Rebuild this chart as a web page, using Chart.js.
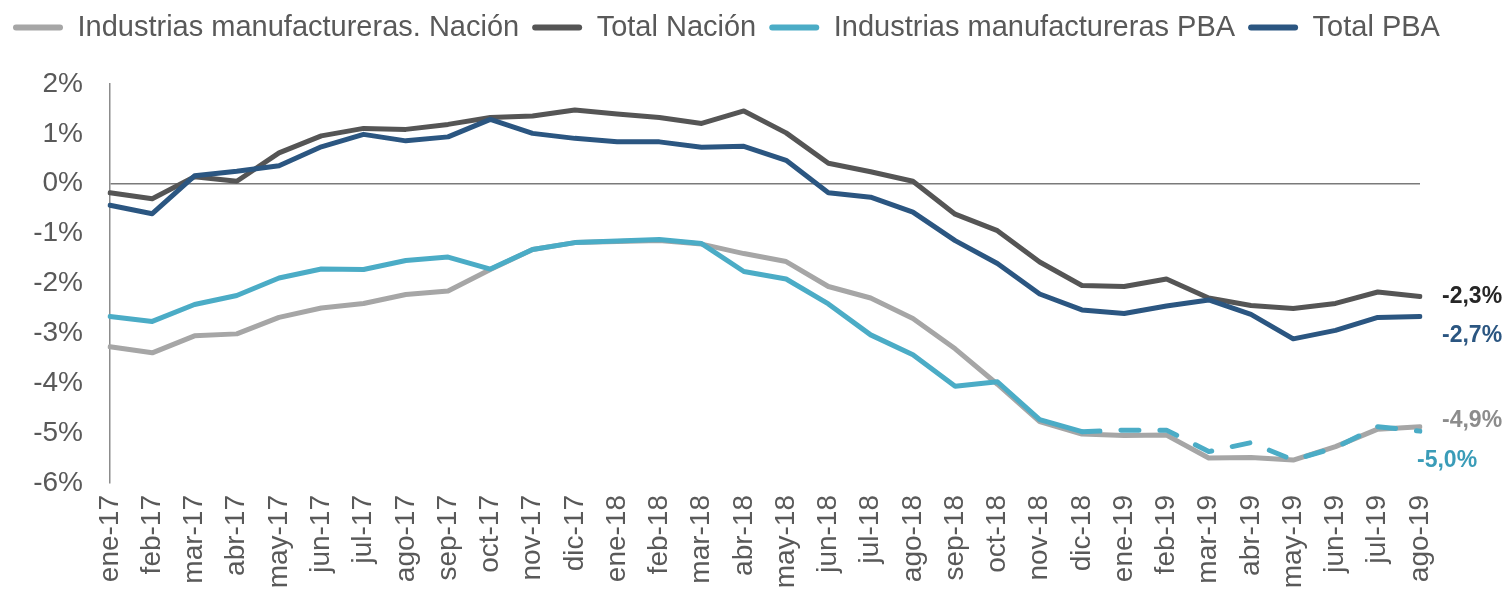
<!DOCTYPE html>
<html lang="es">
<head>
<meta charset="UTF-8">
<title>Empleo registrado - variación interanual</title>
<script src="https://cdn.jsdelivr.net/npm/chart.js@4"></script>
<style>
  body { margin: 0; background: #fff; }
  #wrap { position: relative; width: 1504px; height: 592px; }
</style>
</head>
<body>
<div id="wrap"><canvas id="grafico"></canvas></div>
<script>
const meses = ['ene-17','feb-17','mar-17','abr-17','may-17','jun-17','jul-17','ago-17','sep-17','oct-17','nov-17','dic-17',
               'ene-18','feb-18','mar-18','abr-18','may-18','jun-18','jul-18','ago-18','sep-18','oct-18','nov-18','dic-18',
               'ene-19','feb-19','mar-19','abr-19','may-19','jun-19','jul-19','ago-19'];

// variación interanual, en %
const industriaNacion = [-3.27,-3.39,-3.05,-3.01,-2.68,-2.49,-2.40,-2.22,-2.15,-1.72,-1.32,-1.18,
                         -1.16,-1.14,-1.21,-1.40,-1.56,-2.06,-2.29,-2.70,-3.31,-4.02,-4.77,-5.02,
                         -5.05,-5.04,-5.50,-5.49,-5.54,-5.27,-4.92,-4.87];
const totalNacion = [-0.18,-0.30,0.14,0.05,0.62,0.96,1.11,1.09,1.19,1.33,1.36,1.48,
                     1.40,1.33,1.21,1.46,1.02,0.41,0.24,0.05,-0.61,-0.94,-1.57,-2.04,
                     -2.06,-1.91,-2.29,-2.44,-2.50,-2.40,-2.17,-2.26];
const industriaPBA = [-2.66,-2.76,-2.42,-2.24,-1.89,-1.71,-1.72,-1.54,-1.47,-1.71,-1.32,-1.18,
                      -1.15,-1.12,-1.20,-1.76,-1.91,-2.41,-3.03,-3.43,-4.06,-3.97,-4.73,-4.97,
                      -4.94,-4.94,-5.37,-5.19,-5.54,-5.29,-4.87,-4.96];
const totalPBA = [-0.43,-0.60,0.16,0.25,0.36,0.74,0.99,0.86,0.94,1.29,1.01,0.91,
                  0.84,0.84,0.73,0.75,0.47,-0.18,-0.27,-0.57,-1.14,-1.60,-2.21,-2.53,
                  -2.60,-2.45,-2.33,-2.62,-3.11,-2.94,-2.68,-2.66];

const ejeY = { min: -6, max: 2, paso: 1 };
const inicioPunteado = 23; // desde dic-18 la serie PBA industria va punteada

const fuente = "'Liberation Sans', Arial, sans-serif";
const colores = {
    industriaNacion: '#a6a6a6',
    totalNacion: '#555555',
    industriaPBA: '#4bacc6',
    totalPBA: '#2b5681'
};

// leyenda en una sola fila (usa todo el ancho) y separada del área del gráfico
const margenLeyenda = {
    id: 'margenLeyenda',
    beforeInit(chart) {
        const fitOriginal = chart.legend.fit;
        chart.legend.fit = function () {
            this.maxWidth = chart.width;
            fitOriginal.call(this);
            this.height += 32;
        };
    },
    afterLayout(chart) {
        const lg = chart.legend;
        lg.width = chart.width - lg.left;
        lg.right = chart.width;
    }
};

// rótulo con el último valor a la derecha de cada serie
const rotulosFinales = {
    id: 'rotulosFinales',
    afterDatasetsDraw(chart, args, opts) {
        const ctx = chart.ctx;
        const x = chart.scales.x;
        const y = chart.scales.y;
        ctx.save();
        ctx.font = 'bold 23px ' + fuente;
        ctx.textBaseline = 'middle';
        ctx.textAlign = 'left';
        opts.items.forEach(it => {
            const data = chart.data.datasets[it.dataset].data;
            const ultimo = data.length - 1;
            const v = data[ultimo];
            const texto = v.toFixed(1).replace('.', ',') + '%';
            ctx.fillStyle = it.color;
            ctx.fillText(texto, x.getPixelForValue(ultimo) + it.dx, y.getPixelForValue(v) + it.dy);
        });
        ctx.restore();
    }
};

const lineaBase = {
    fill: false,
    tension: 0,
    borderWidth: 5,
    pointRadius: 0,
    pointHoverRadius: 0,
    borderCapStyle: 'round',
    borderJoinStyle: 'round'
};

new Chart(document.getElementById('grafico'), {
    type: 'line',
    data: {
        labels: meses,
        datasets: [
            Object.assign({}, lineaBase, {
                label: 'Industrias manufactureras. Nación',
                data: industriaNacion,
                borderColor: colores.industriaNacion,
                backgroundColor: colores.industriaNacion,
                order: 4
            }),
            Object.assign({}, lineaBase, {
                label: 'Total Nación',
                data: totalNacion,
                borderColor: colores.totalNacion,
                backgroundColor: colores.totalNacion,
                order: 3
            }),
            Object.assign({}, lineaBase, {
                label: 'Industrias manufactureras PBA',
                data: industriaPBA,
                borderColor: colores.industriaPBA,
                backgroundColor: colores.industriaPBA,
                order: 2,
                segment: {
                    borderDash: c => c.p0DataIndex >= inicioPunteado ? [18, 21] : undefined
                }
            }),
            Object.assign({}, lineaBase, {
                label: 'Total PBA',
                data: totalPBA,
                borderColor: colores.totalPBA,
                backgroundColor: colores.totalPBA,
                order: 1
            })
        ]
    },
    options: {
        responsive: true,
        maintainAspectRatio: false,
        animation: false,
        layout: { padding: { left: 0, right: 84, top: 0, bottom: 0 } },
        plugins: {
            tooltip: { enabled: false },
            legend: {
                position: 'top',
                align: 'start',
                labels: {
                    font: { family: fuente, size: 29 },
                    color: '#595959',
                    boxWidth: 50,
                    boxHeight: 6,
                    padding: 13,
                    useBorderRadius: true,
                    borderRadius: 3,
                    sort: (a, b) => a.datasetIndex - b.datasetIndex,
                    generateLabels: chart => Chart.defaults.plugins.legend.labels.generateLabels(chart)
                        .map(l => Object.assign(l, { lineWidth: 0, lineDash: [] }))
                }
            },
            rotulosFinales: {
                items: [
                    { dataset: 1, dx: 22, dy: 0, color: '#262626' },
                    { dataset: 3, dx: 22, dy: 19, color: '#2b5681' },
                    { dataset: 0, dx: 22, dy: -6, color: '#8c8c8c' },
                    { dataset: 2, dx: -3, dy: 30, color: '#3a9cb8' }
                ]
            }
        },
        scales: {
            x: {
                offset: false,
                grid: { display: false, drawTicks: false },
                border: { display: false },
                ticks: {
                    autoSkip: false,
                    minRotation: 90,
                    maxRotation: 90,
                    padding: 12,
                    color: '#595959',
                    font: { family: fuente, size: 28 }
                },
                afterFit: s => { s.height = 109; }
            },
            y: {
                min: ejeY.min,
                max: ejeY.max,
                grid: {
                    drawTicks: false,
                    color: c => c.tick && c.tick.value === 0 ? '#7a7a7a' : 'rgba(0,0,0,0)',
                    lineWidth: 1.5
                },
                border: { display: true, color: '#8c8c8c', width: 1.5 },
                ticks: {
                    stepSize: ejeY.paso,
                    padding: 27,
                    color: '#595959',
                    font: { family: fuente, size: 28 },
                    callback: v => v + '%'
                },
                afterFit: s => { s.width = 110; }
            }
        }
    },
    plugins: [margenLeyenda, rotulosFinales]
});
</script>
</body>
</html>
